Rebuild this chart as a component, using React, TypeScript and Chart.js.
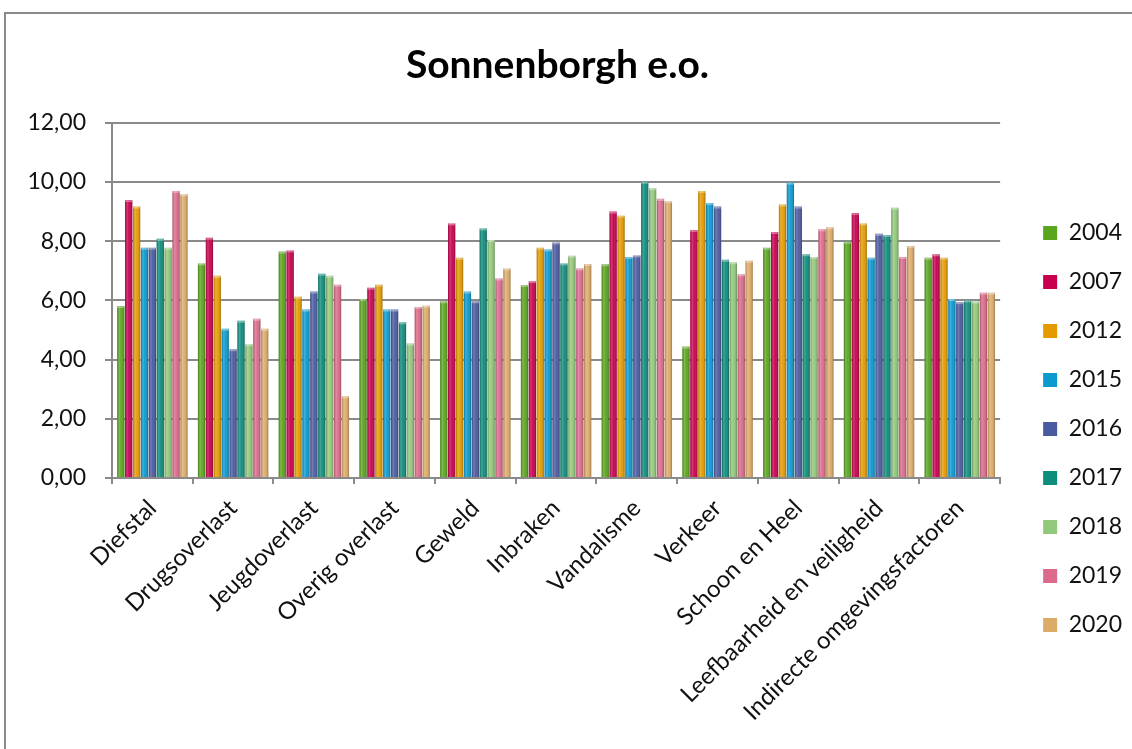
import React, { useEffect, useRef } from "react";
import { Chart, registerables } from "chart.js";

Chart.register(...registerables);

const categories = [
  "Diefstal",
  "Drugsoverlast",
  "Jeugdoverlast",
  "Overig overlast",
  "Geweld",
  "Inbraken",
  "Vandalisme",
  "Verkeer",
  "Schoon en Heel",
  "Leefbaarheid en veiligheid",
  "Indirecte omgevingsfactoren",
];

const years = ["2004", "2007", "2012", "2015", "2016", "2017", "2018", "2019", "2020"];

const y2004 = [5.81, 7.25, 7.65, 6.05, 5.97, 6.52, 7.22, 4.44, 7.78, 7.98, 7.44];
const y2007 = [9.39, 8.12, 7.69, 6.43, 8.6, 6.65, 9.0, 8.38, 8.31, 8.95, 7.56];
const y2012 = [9.17, 6.83, 6.12, 6.53, 7.44, 7.78, 8.86, 9.7, 9.24, 8.6, 7.44];
const y2015 = [7.78, 5.04, 5.69, 5.69, 6.3, 7.72, 7.47, 9.29, 9.98, 7.44, 6.05];
const y2016 = [7.78, 4.35, 6.3, 5.69, 5.97, 7.96, 7.52, 9.17, 9.17, 8.25, 5.94];
const y2017 = [8.08, 5.31, 6.9, 5.26, 8.43, 7.25, 10.01, 7.37, 7.56, 8.21, 6.0];
const y2018 = [7.78, 4.52, 6.83, 4.54, 8.04, 7.51, 9.79, 7.29, 7.47, 9.13, 5.96];
const y2019 = [9.7, 5.38, 6.53, 5.78, 6.74, 7.08, 9.43, 6.88, 8.4, 7.47, 6.26];
const y2020 = [9.59, 5.04, 2.76, 5.82, 7.08, 7.23, 9.35, 7.34, 8.47, 7.84, 6.26];

const seriesValues = [y2004, y2007, y2012, y2015, y2016, y2017, y2018, y2019, y2020];

const colors = [
  "#5aa51e",
  "#c8004e",
  "#e59b00",
  "#0a9ad0",
  "#4a5aa0",
  "#0e8c7c",
  "#92c87a",
  "#dc6a8a",
  "#ddab68",
];

const FONT = "Lato, 'Open Sans', sans-serif";

const borderPlugin = {
  id: "outerBorder",
  beforeDraw(chart: any) {
    const ctx = chart.ctx;
    ctx.save();
    ctx.fillStyle = "#ffffff";
    ctx.fillRect(0, 0, chart.width, chart.height);
    ctx.strokeStyle = "#8a8a8a";
    ctx.lineWidth = 2;
    ctx.strokeRect(5, 13, chart.width + 20, chart.height + 20);
    ctx.restore();
  },
};

const legendShiftPlugin = {
  id: "legendShift",
  afterLayout(chart: any) {
    const l = chart.legend;
    if (l) {
      l.left += 17;
      l.right += 17;
    }
  },
};

const shadePlugin = {
  id: "barShade",
  afterDatasetsDraw(chart: any) {
    const ctx = chart.ctx;
    ctx.save();
    chart.data.datasets.forEach((_: any, di: number) => {
      const meta = chart.getDatasetMeta(di);
      meta.data.forEach((el: any) => {
        const { x, y, base, width } = el.getProps(["x", "y", "base", "width"], true);
        const left = x - width / 2;
        const g = ctx.createLinearGradient(left, 0, left + width, 0);
        g.addColorStop(0, "rgba(0,0,0,0.22)");
        g.addColorStop(0.3, "rgba(255,255,255,0.22)");
        g.addColorStop(0.55, "rgba(255,255,255,0.04)");
        g.addColorStop(1, "rgba(0,0,0,0.3)");
        ctx.fillStyle = g;
        ctx.fillRect(left, y, width, base - y);
        ctx.fillStyle = "rgba(255,255,255,0.35)";
        ctx.fillRect(left, y, width, 2);
      });
    });
    ctx.restore();
  },
};

export default function App() {
  const ref = useRef<HTMLCanvasElement | null>(null);

  useEffect(() => {
    document.body.style.margin = "0";
    const canvas = ref.current;
    if (!canvas) return;
    const chart = new Chart(canvas, {
      type: "bar",
      data: {
        labels: categories,
        datasets: years.map((yr, i) => ({
          label: yr,
          data: seriesValues[i],
          backgroundColor: colors[i],
          borderWidth: 0,
          categoryPercentage: 0.88,
          barPercentage: 0.92,
        })),
      },
      options: {
        responsive: false,
        animation: false,
        layout: { padding: { left: 0, right: 17, top: 0, bottom: 0 } },
        plugins: {
          title: {
            display: true,
            text: "Sonnenborgh e.o.",
            color: "#000000",
            font: { family: FONT, size: 39, weight: "bold" },
            padding: { top: 42, bottom: 34 },
          },
          legend: {
            display: true,
            position: "right",
            align: "center",
            title: {
              display: true,
              text: " ",
              font: { family: FONT, size: 10 },
              padding: { top: 97, bottom: 0 },
            },
            labels: {
              boxWidth: 14,
              boxHeight: 14,
              padding: 26,
              color: "#111111",
              font: { family: FONT, size: 23 },
            },
          },
          tooltip: { enabled: false },
        },
        scales: {
          x: {
            grid: {
              display: true,
              drawOnChartArea: false,
              drawTicks: true,
              tickLength: 6,
              offset: true,
              color: "#8a8a8a",
              lineWidth: 2,
            },
            border: { display: true, color: "#8a8a8a", width: 2 },
            ticks: {
              maxRotation: 45,
              minRotation: 45,
              autoSkip: false,
              color: "#111111",
              font: { family: FONT, size: 24 },
              padding: 10,
            },
            afterFit: (scale: any) => {
              scale.height = 271;
            },
          },
          y: {
            min: 0,
            max: 12,
            grid: {
              color: "#8a8a8a",
              lineWidth: 2,
              tickLength: 7,
              drawTicks: true,
            },
            border: { display: true, color: "#8a8a8a", width: 2 },
            ticks: {
              stepSize: 2,
              color: "#111111",
              font: { family: FONT, size: 23 },
              padding: 19,
              callback: (v: any) => Number(v).toFixed(2).replace(".", ","),
            },
            afterFit: (scale: any) => {
              scale.width = 112;
            },
          },
        },
      },
      plugins: [borderPlugin, legendShiftPlugin, shadePlugin],
    });
    return () => chart.destroy();
  }, []);

  return (
    <div style={{ width: 1132, height: 749 }}>
      <canvas ref={ref} width={1132} height={749} />
    </div>
  );
}
